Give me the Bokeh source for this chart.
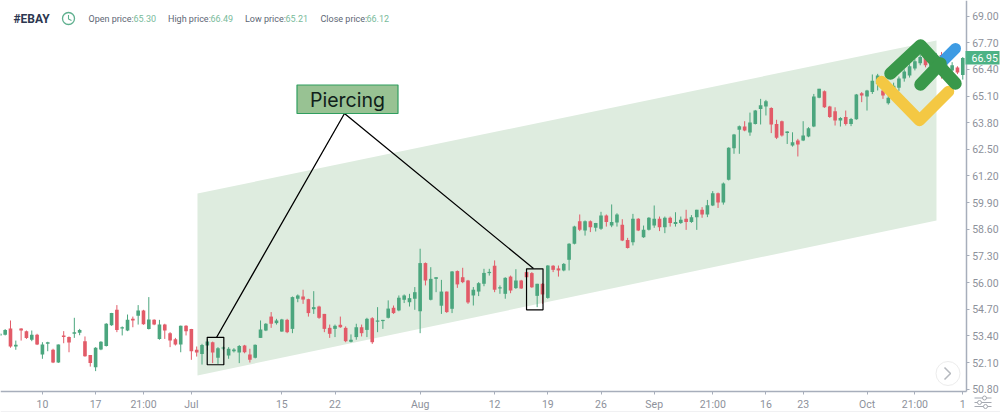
#EBAY candles with a Piercing pattern, price channel and logo on top

from bokeh.core.properties import value
from bokeh.embed import file_html
from bokeh.models import ColumnDataSource, FixedTicker, NumeralTickFormatter
from bokeh.plotting import figure
from bokeh.resources import INLINE

opens = [
    53.42, 53.45, 53.76, 52.88, 53.76, 53.63, 53.21, 53.45, 52.49, 53.01,
    52.72, 52.10, 53.42, 53.34, 53.50, 53.55, 53.14, 52.46, 51.87, 52.73,
    52.91, 53.92, 54.67, 53.76, 53.66, 54.23, 54.38, 54.64, 53.74, 54.18,
    53.25, 53.95, 53.53, 53.24, 52.98, 53.89, 53.74, 52.72, 52.52, 52.93,
    53.09, 52.33, 52.78, 52.44, 52.65, 52.59, 52.93, 52.49, 52.33, 53.30,
    53.66, 54.34, 54.02, 53.61, 54.18, 53.74, 55.21, 55.32, 55.19, 54.70,
    54.83, 54.47, 53.79, 53.74, 53.94, 53.79, 53.11, 53.34, 53.82, 53.69,
    54.26, 54.09, 54.12, 54.28, 54.77, 54.64, 55.16, 55.04, 55.21, 54.60,
    56.95, 55.16, 56.18, 54.87, 55.56, 54.72, 56.56, 56.26, 56.10, 55.37,
    55.56, 55.94, 56.46, 56.82, 55.71, 55.45, 56.29, 55.73, 56.10, 56.51,
    56.46, 55.35, 55.94, 55.25, 56.82, 56.69, 56.59, 57.11, 57.89, 58.99,
    58.54, 58.99, 58.67, 58.62, 59.27, 58.78, 58.93, 58.82, 58.08, 57.97,
    59.11, 58.21, 58.57, 58.78, 59.11, 58.70, 59.16, 58.86, 58.90, 59.11,
    58.95, 59.19, 59.55, 59.32, 59.76, 60.36, 59.90, 61.01, 62.55, 63.45,
    63.61, 63.32, 63.74, 64.46, 64.59, 64.52, 63.74, 63.87, 63.29, 62.68,
    62.93, 62.93, 63.12, 63.61, 65.01, 65.33, 64.59, 64.36, 63.90, 64.07,
    63.74, 63.97, 65.24, 65.07, 65.29, 65.69, 65.37, 64.75, 65.10, 65.50,
    65.95, 66.10, 66.44, 66.70, 67.00, 66.55, 66.70, 67.10, 66.10, 66.35,
    66.49, 66.12,
]
highs = [
    53.52, 53.73, 54.15, 53.17, 53.77, 53.66, 53.66, 53.50, 53.09, 53.11,
    52.77, 52.98, 53.63, 53.37, 54.28, 53.74, 53.37, 52.46, 52.85, 53.14,
    54.02, 54.52, 54.90, 53.86, 54.44, 54.34, 54.90, 54.67, 55.29, 54.21,
    54.18, 53.99, 53.58, 53.30, 53.90, 53.92, 53.74, 52.88, 53.01, 53.25,
    53.12, 52.85, 52.88, 52.85, 52.80, 52.95, 52.96, 52.77, 52.98, 54.15,
    54.02, 54.56, 54.23, 54.23, 54.23, 55.32, 55.42, 55.65, 55.21, 55.58,
    54.87, 54.47, 53.95, 53.95, 54.34, 53.86, 53.47, 53.99, 53.95, 54.28,
    54.31, 54.80, 54.18, 55.13, 54.88, 55.37, 55.42, 55.45, 55.78, 57.65,
    56.98, 56.75, 56.26, 56.13, 55.56, 56.56, 56.59, 56.72, 56.13, 55.78,
    56.02, 56.67, 56.67, 57.08, 55.86, 56.26, 56.34, 56.65, 56.13, 56.59,
    56.51, 55.94, 55.97, 56.85, 56.85, 56.83, 56.95, 57.92, 58.77, 59.32,
    59.03, 59.03, 58.91, 59.45, 59.32, 59.81, 59.38, 59.09, 58.18, 59.35,
    59.14, 58.78, 59.19, 59.76, 59.22, 59.22, 59.22, 59.43, 59.22, 59.55,
    59.29, 59.55, 59.68, 60.03, 60.46, 60.39, 60.88, 62.60, 63.25, 63.66,
    63.87, 64.29, 64.42, 64.96, 64.91, 64.55, 63.94, 63.90, 63.38, 63.33,
    63.01, 63.87, 63.58, 65.20, 65.45, 65.37, 64.62, 64.55, 64.07, 64.39,
    64.03, 65.20, 65.29, 65.40, 66.15, 66.18, 65.40, 65.12, 65.75, 66.05,
    66.40, 66.65, 66.90, 67.10, 67.15, 66.90, 67.20, 67.25, 66.70, 66.75,
    66.55, 67.00,
]
lows = [
    53.40, 53.42, 52.82, 52.72, 53.17, 53.25, 53.14, 52.95, 52.28, 52.65,
    52.07, 52.08, 53.04, 52.60, 53.30, 53.43, 52.38, 51.90, 51.68, 52.70,
    52.88, 53.89, 53.58, 53.42, 53.63, 53.82, 53.95, 53.94, 53.71, 53.92,
    53.21, 53.25, 52.85, 52.93, 52.60, 53.42, 52.23, 52.39, 52.00, 52.69,
    52.07, 52.03, 52.70, 52.28, 52.59, 52.07, 52.55, 52.10, 52.30, 53.30,
    53.63, 53.79, 53.95, 53.60, 53.53, 53.53, 55.04, 54.96, 54.34, 54.47,
    54.23, 53.58, 53.30, 53.34, 53.79, 53.09, 53.08, 53.21, 53.37, 53.34,
    53.01, 53.58, 53.74, 54.25, 54.47, 54.60, 55.00, 54.83, 54.67, 53.53,
    55.86, 55.13, 55.53, 54.47, 54.52, 54.51, 55.74, 55.97, 54.96, 54.88,
    55.34, 55.82, 56.34, 55.53, 55.45, 55.21, 55.48, 55.69, 55.69, 56.23,
    55.74, 54.80, 54.96, 55.21, 56.51, 56.29, 56.55, 56.59, 57.86, 58.51,
    58.29, 58.46, 58.49, 58.57, 58.73, 58.70, 58.73, 58.02, 57.66, 57.81,
    58.51, 58.18, 58.54, 58.67, 58.51, 58.41, 58.73, 58.73, 58.86, 58.57,
    58.91, 58.57, 59.16, 59.19, 59.73, 59.64, 59.80, 60.98, 62.28, 62.28,
    63.38, 63.16, 63.71, 63.71, 64.15, 63.29, 63.00, 63.12, 62.76, 62.63,
    62.15, 62.90, 63.09, 63.58, 64.99, 64.52, 64.03, 63.66, 63.61, 63.66,
    63.63, 63.94, 64.80, 64.39, 65.20, 65.37, 64.96, 64.68, 65.00, 65.35,
    65.80, 66.00, 66.35, 66.60, 66.50, 66.30, 66.50, 65.95, 65.90, 66.10,
    66.17, 65.90,
]
closes = [
    53.50, 53.69, 52.88, 52.96, 53.66, 53.30, 53.45, 52.98, 52.98, 53.09,
    52.10, 52.98, 53.34, 53.08, 53.58, 53.69, 52.41, 52.07, 52.82, 53.11,
    53.99, 54.52, 53.69, 53.82, 54.18, 54.15, 54.64, 53.97, 54.20, 53.95,
    53.95, 53.66, 53.17, 52.98, 53.89, 53.63, 52.65, 52.59, 52.95, 53.12,
    52.59, 52.80, 52.83, 52.77, 52.73, 52.91, 52.60, 52.23, 52.96, 53.71,
    53.99, 53.99, 54.15, 54.20, 53.58, 55.29, 55.37, 55.17, 54.51, 54.80,
    54.28, 53.74, 53.50, 53.89, 53.82, 53.14, 53.21, 53.82, 53.53, 54.23,
    53.09, 54.15, 54.18, 54.73, 54.51, 55.26, 55.37, 55.24, 55.53, 56.95,
    56.10, 56.18, 56.26, 55.56, 54.56, 56.54, 55.91, 56.02, 55.03, 55.65,
    55.97, 56.47, 56.52, 55.65, 55.77, 56.23, 55.61, 56.10, 55.71, 56.26,
    55.77, 55.94, 55.42, 56.83, 56.62, 56.59, 56.91, 57.89, 58.73, 58.57,
    58.99, 58.70, 58.90, 59.27, 58.95, 58.95, 59.32, 58.05, 57.69, 59.11,
    58.54, 58.57, 59.16, 59.11, 58.70, 59.16, 58.91, 58.95, 59.06, 58.95,
    59.19, 59.55, 59.32, 59.77, 60.36, 59.90, 60.83, 62.57, 63.22, 63.63,
    63.42, 63.81, 64.39, 64.65, 64.85, 63.71, 63.06, 63.17, 63.37, 62.85,
    62.73, 63.17, 63.53, 65.07, 65.45, 64.55, 64.07, 63.90, 64.03, 63.74,
    63.98, 65.17, 65.12, 65.37, 65.85, 66.10, 65.12, 65.01, 65.60, 65.95,
    66.30, 66.55, 66.80, 67.00, 66.60, 66.80, 67.05, 66.20, 66.50, 66.60,
    66.25, 66.95,
]

price_ticks = [50.80, 52.10, 53.40, 54.70, 56.00, 57.30, 58.60, 59.90, 61.20,
               62.50, 63.80, 65.10, 66.40, 67.70, 69.00]
time_ticks = [8, 18, 27, 36, 53, 63, 79, 93, 103, 113, 123, 134, 144, 151, 163, 172, 181]
time_labels = ["10", "17", "21:00", "Jul", "15", "22", "Aug", "12", "19", "26", "Sep",
               "21:00", "16", "23", "Oct", "21:00", "1"]

# channel corners and the two pattern boxes, candle number / price
channel_x = [37.15, 176.06, 176.06, 37.15]
channel_y = [60.34, 67.81, 59.03, 51.47]
box_left = [38.98, 99.0]
box_right = [42.1, 102.1]
box_top = [53.33, 56.67]
box_bottom = [51.99, 54.67]

header = [("Open price:", 88, "65.30", 133), ("High price:", 167.5, "66.49", 210),
          ("Low price:", 244.5, "65.21", 285), ("Close price:", 320, "66.12", 366)]

GREEN = "#4ba67e"
RED = "#e25b68"
GREY = "#8d919b"
AXIS = "#a7aebb"


# pixel of the picture -> chart units, for things that are not data
def px_x(x):
    return (x + 0.65) / 5.32


def px_y(y):
    return 52.10 + (362 - y) / 20.5


# frame fills the whole page, axes sit inside it so the price tag and icon can be drawn past them
p = figure(width=1000, height=413, output_backend="svg", toolbar_location=None,
           x_range=(px_x(0), px_x(1000)), y_range=(px_y(413), px_y(0)),
           y_axis_location="right", min_border=0,
           background_fill_color="white", border_fill_color="white")
p.outline_line_color = None
p.grid.grid_line_color = None

p.xaxis.ticker = FixedTicker(ticks=time_ticks)
p.xaxis.major_label_overrides = dict(zip(time_ticks, time_labels))
p.xaxis.fixed_location = px_y(391)
p.xaxis.bounds = (px_x(0), px_x(965.7))
p.yaxis.ticker = FixedTicker(ticks=price_ticks)
p.yaxis.formatter = NumeralTickFormatter(format="0.00")
p.yaxis.fixed_location = px_x(965.7)
p.yaxis.bounds = (px_y(391), px_y(0))
for ax in [p.xaxis[0], p.yaxis[0]]:
    ax.axis_line_color = AXIS
    ax.axis_line_width = 1.5
    ax.major_tick_line_color = AXIS
    ax.major_tick_in = 0
    ax.major_tick_out = 3
    ax.minor_tick_line_color = None
    ax.major_label_text_color = GREY
    ax.major_label_text_font = "Roboto"
    ax.major_label_text_font_size = "10.5px"
    ax.major_label_standoff = 3

p.patch(channel_x, channel_y, fill_color="#deecdf", line_color=None)

idx = list(range(len(opens)))
colors = [GREEN if c >= o else RED for o, c in zip(opens, closes)]
source = ColumnDataSource(data=dict(
    x=idx, o=opens, h=highs, l=lows, c=closes, color=colors,
))
p.segment("x", "h", "x", "l", color="color", line_width=1, source=source)
p.vbar("x", 0.68, "o", "c", fill_color="color", line_color=None, source=source)

# Piercing callout
p.quad(left=box_left, right=box_right, top=box_top, bottom=box_bottom,
       fill_alpha=0, line_color="black", line_width=1.2)
p.line([px_x(216), px_x(344), px_x(533)], [px_y(337), px_y(113), px_y(268)],
       line_color="black", line_width=1.3)
p.quad(left=px_x(296.5), right=px_x(397.5), top=px_y(84.5), bottom=px_y(113),
       fill_color="#98c293", line_color="#2f9e5f", line_width=1.2)
p.text([px_x(347)], [px_y(99)], text=["Piercing"], text_color="#10201a",
       text_font=value("Inter"), text_font_size="19.5px",
       text_align="center", text_baseline="middle")

# logo
p.line([px_x(940), px_x(955)], [px_y(63), px_y(48)], line_color="#3d9be3", line_width=11,
       line_cap="round")
p.line([px_x(881), px_x(919), px_x(948)], [px_y(81), px_y(120), px_y(91)], line_color="#f4c843",
       line_width=11.5, line_cap="round", line_join="round")
p.line([px_x(890), px_x(920), px_x(955)], [px_y(73), px_y(45), px_y(83)], line_color="#39984a",
       line_width=12.5, line_cap="round", line_join="round")
p.line([px_x(920), px_x(940)], [px_y(84), px_y(63)], line_color="#39984a", line_width=12.5,
       line_cap="round")

# scroll button
p.scatter([px_x(947.5)], [px_y(373)], size=24, fill_color="white", line_color="#ececec")
p.line([px_x(944), px_x(950), px_x(944)], [px_y(367), px_y(373), px_y(379)],
       line_color="#b5b8be", line_width=1.5)

# header
p.text([px_x(13)], [px_y(18)], text=["#EBAY"], text_color="#2c3750",
       text_font=value("Roboto"), text_font_style="bold", text_font_size="12px",
       text_baseline="middle")
p.scatter([px_x(68)], [px_y(18)], size=12, fill_color=None, line_color="#5fb08f", line_width=1.3)
p.line([px_x(68), px_x(68), px_x(71)], [px_y(14.5), px_y(18.5), px_y(20)],
       line_color="#5fb08f", line_width=1.1)
for name, name_x, val, val_x in header:
    p.text([px_x(name_x)], [px_y(18)], text=[name], text_color="#5d6674",
           text_font=value("Roboto"), text_font_size="9px", text_baseline="middle")
    p.text([px_x(val_x)], [px_y(18)], text=[val], text_color="#79bb9b",
           text_font=value("Roboto"), text_font_size="9px", text_baseline="middle")

# last price tag on the axis
p.quad(left=px_x(965), right=px_x(999), top=px_y(50.5), bottom=px_y(64),
       fill_color="#4cb285", line_color=None, level="overlay")
p.text([px_x(971)], [px_y(57.5)], text=["66.95"], text_color="white",
       text_font=value("Roboto"), text_font_size="10.5px", text_baseline="middle",
       level="overlay")

# settings icon under the price axis
p.segment([px_x(974)] * 3, [px_y(397.5), px_y(402), px_y(406)], [px_x(991)] * 3,
          [px_y(397.5), px_y(402), px_y(406)], line_color="#a5a9b1", line_width=1)
p.scatter([px_x(984), px_x(979), px_x(985)], [px_y(397.5), px_y(402), px_y(406)], size=4,
          fill_color="white", line_color="#a5a9b1", line_width=1)

# faint line along the page bottom
p.line([px_x(0), px_x(1000)], [px_y(411), px_y(411)], line_color="#f1f1f3", line_width=1)

open("out.html", "w").write(file_html(p, INLINE))
